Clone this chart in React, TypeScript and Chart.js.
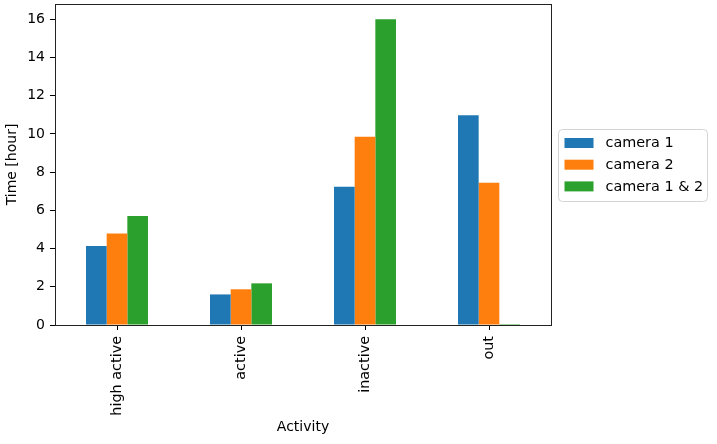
import { useEffect, useRef } from 'react'
import { Chart, registerables } from 'chart.js'
import type { ChartConfiguration, Plugin } from 'chart.js'

Chart.register(...registerables)

const FONT = "'DejaVu Sans', sans-serif"
Chart.defaults.font.family = FONT
Chart.defaults.font.size = 14
Chart.defaults.color = '#000'

// values (hours)
const categories = ['high active', 'active', 'inactive', 'out']
const seriesNames = ['camera 1', 'camera 2', 'camera 1 & 2']
const camera1 = [4.13, 1.6, 7.23, 10.98]
const camera2 = [4.79, 1.87, 9.85, 7.44]
const camera12 = [5.7, 2.18, 16.0, 0.05]
const colors = ['#1f77b4', '#ff7f0e', '#2ca02c']
const yMax = 16.8
const yStep = 2

/** matplotlib-like box around the axes */
const axesFrame: Plugin<'bar'> = {
  id: 'axesFrame',
  afterDraw(chart) {
    const { ctx, chartArea: a } = chart
    ctx.save()
    ctx.strokeStyle = '#222'
    ctx.lineWidth = 1
    ctx.strokeRect(Math.round(a.left) + 0.5, Math.round(a.top) + 0.5,
      Math.round(a.right - a.left), Math.round(a.bottom - a.top))
    ctx.restore()
  },
}

/** legend outside the axes, right side, vertically centred */
const sideLegend: Plugin<'bar'> = {
  id: 'sideLegend',
  afterDraw(chart) {
    const { ctx, chartArea: a } = chart
    const w = 149
    const h = 72
    const x0 = Math.round(a.right + 7) + 0.5
    const y0 = Math.round((a.top + a.bottom) / 2 - h / 2) + 0.5
    ctx.save()
    ctx.beginPath()
    ctx.roundRect(x0, y0, w, h, 4)
    ctx.fillStyle = 'rgba(255,255,255,0.8)'
    ctx.fill()
    ctx.strokeStyle = '#d4d4d4'
    ctx.lineWidth = 1
    ctx.stroke()
    ctx.font = `14.4px ${FONT}`
    ctx.textBaseline = 'middle'
    ctx.textAlign = 'left'
    chart.data.datasets.forEach((ds, i) => {
      const cy = y0 + 13.5 + i * 21.7
      ctx.fillStyle = ds.backgroundColor as string
      ctx.fillRect(x0 + 6, cy - 5, 29, 10)
      ctx.fillStyle = '#000'
      ctx.fillText(String(ds.label), x0 + 47, cy + 0.5)
    })
    ctx.restore()
  },
}

export default function App() {
  const ref = useRef<HTMLCanvasElement>(null)

  useEffect(() => {
    if (!ref.current) return
    const series = [camera1, camera2, camera12]
    const config: ChartConfiguration<'bar'> = {
      type: 'bar',
      data: {
        labels: categories,
        datasets: series.map((values, i) => ({
          label: seriesNames[i],
          data: values,
          backgroundColor: colors[i],
          borderWidth: 0,
          categoryPercentage: 0.5,
          barPercentage: 1.0,
        })),
      },
      options: {
        animation: false,
        responsive: true,
        maintainAspectRatio: false,
        layout: { padding: { top: 4, right: 166, left: 0, bottom: 0 } },
        plugins: {
          legend: { display: false },
          tooltip: { enabled: false },
        },
        scales: {
          x: {
            grid: {
              offset: false,
              drawOnChartArea: false,
              drawTicks: true,
              tickLength: 5,
              color: '#000',
              lineWidth: 1,
            },
            border: { display: false },
            ticks: {
              autoSkip: false,
              minRotation: 90,
              maxRotation: 90,
              padding: 6,
              color: '#000',
              font: { family: FONT, size: 14.4 },
            },
            title: {
              display: true,
              text: 'Activity',
              color: '#000',
              font: { family: FONT, size: 14 },
              padding: { top: 4, bottom: 8 },
            },
            afterFit(scale) {
              scale.height = 119
              scale.paddingLeft = 0
              scale.paddingRight = 0
            },
          },
          y: {
            min: 0,
            max: yMax,
            grid: {
              drawOnChartArea: false,
              drawTicks: true,
              tickLength: 5,
              color: '#000',
              lineWidth: 1,
            },
            border: { display: false },
            ticks: {
              stepSize: yStep,
              includeBounds: false,
              padding: 5,
              color: '#000',
              font: { family: FONT, size: 14 },
            },
            title: {
              display: true,
              text: 'Time [hour]',
              color: '#000',
              font: { family: FONT, size: 14 },
              padding: { top: 4, bottom: 4 },
            },
            afterFit(scale) {
              scale.width = 55
              scale.paddingTop = 0
              scale.paddingBottom = 0
            },
          },
        },
      },
      plugins: [axesFrame, sideLegend],
    }
    const chart = new Chart(ref.current, config)
    return () => chart.destroy()
  }, [])

  return (
    <div style={{ position: 'absolute', left: 0, top: 0, width: 717, height: 444, background: '#fff' }}>
      <canvas ref={ref} />
    </div>
  )
}
